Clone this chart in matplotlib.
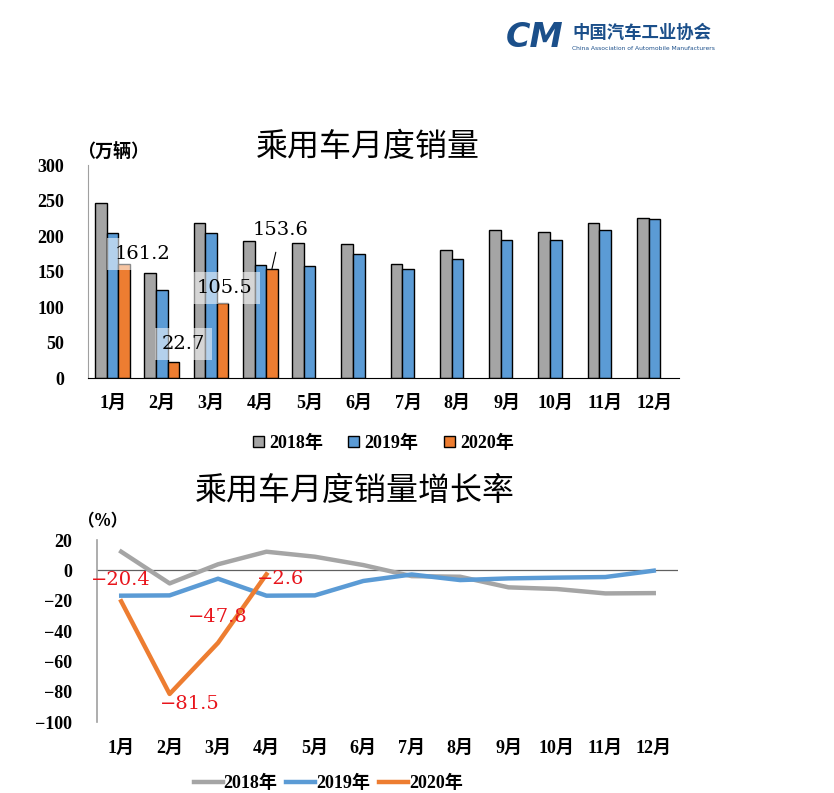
import numpy as np
import matplotlib.pyplot as plt

plt.rcParams['font.family'] = ['Noto Sans CJK SC', 'DejaVu Sans']

months = ['1月', '2月', '3月', '4月', '5月', '6月', '7月', '8月', '9月', '10月', '11月', '12月']

# monthly sales (10k vehicles)
sales_2018 = [247, 148, 219, 193, 190, 189, 160, 181, 208, 206, 219, 226]
sales_2019 = [204, 124, 204, 159, 158, 175, 154, 167, 195, 195, 208, 224]
sales_2020 = [161.2, 22.7, 105.5, 153.6]

# growth rate (%)
growth_2018 = [12.3, -8.6, 4.0, 12.3, 9.0, 3.5, -3.8, -4.2, -11.2, -12.3, -15.2, -15.0]
growth_2019 = [-16.7, -16.5, -5.5, -16.7, -16.5, -7.0, -2.7, -6.4, -5.3, -4.8, -4.4, -0.2]
growth_2020 = [-20.4, -81.5, -47.8, -2.6]

years = ['2018年', '2019年', '2020年']
colors = ['#A5A5A5', '#5B9BD5', '#ED7D31']

num_font = ['Liberation Serif', 'Noto Sans CJK SC']
lab_font = ['DejaVu Serif', 'Noto Sans CJK SC']

fig = plt.figure(figsize=(8.34, 7.93), dpi=100)

# ---------------- bar chart ----------------
ax1 = fig.add_axes([0.1055, 0.5233, 0.7086, 0.2686])
x = np.arange(len(months))
w = 0.235
for i, (vals, c, lab) in enumerate(zip([sales_2018, sales_2019, sales_2020], colors, years)):
    xs = x[:len(vals)] + (i - 1) * w
    ax1.bar(xs, vals, width=w, color=c, edgecolor='black', linewidth=1.0, label=lab)

ax1.set_xlim(-0.5, 11.5)
ax1.set_ylim(0, 300)
ax1.set_yticks(range(0, 301, 50))
ax1.set_xticks(x)
ax1.set_xticklabels(months)
for s in ['top', 'right']:
    ax1.spines[s].set_visible(False)
ax1.spines['left'].set_color('#A0A0A0')
ax1.spines['bottom'].set_color('black')
ax1.tick_params(axis='y', length=0, pad=17)
ax1.tick_params(axis='x', length=0, pad=12)
for t in ax1.get_xticklabels() + ax1.get_yticklabels():
    t.set_fontfamily(num_font)
    t.set_fontweight('bold')
    t.set_fontsize(13)

bbox = dict(boxstyle='square,pad=0.35', fc='white', ec='none', alpha=0.55)
xs20 = x[:4] + w
ax1.annotate('161.2', (xs20[0], sales_2020[0]), xytext=(0.6, 175), ha='center', va='center',
             fontsize=14, family=lab_font, bbox=bbox)
ax1.annotate('22.7', (xs20[1], sales_2020[1]), xytext=(1.43, 48), ha='center', va='center',
             fontsize=14, family=lab_font, bbox=bbox)
ax1.annotate('105.5', (xs20[2], sales_2020[2]), xytext=(2.28, 127), ha='center', va='center',
             fontsize=14, family=lab_font, bbox=bbox)
ax1.annotate('153.6', (xs20[3], sales_2020[3]), xytext=(3.42, 209), ha='center', va='center',
             fontsize=14, family=lab_font,
             arrowprops=dict(arrowstyle='-', color='black', lw=0.8, shrinkA=8, shrinkB=0))

ax1.legend(loc='upper center', bbox_to_anchor=(0.5, -0.19), ncol=3, frameon=False,
           handlelength=0.6, handleheight=0.6, handletextpad=0.3, columnspacing=1.4,
           prop={'family': num_font, 'weight': 'bold', 'size': 13})

fig.text(0.441, 0.815, '乘用车月度销量', ha='center', va='center', fontsize=23)
fig.text(0.092, 0.809, '（万辆）', ha='left', va='center', fontsize=13, fontweight='bold')

# ---------------- line chart ----------------
ax2 = fig.add_axes([0.1163, 0.0895, 0.6966, 0.2295])
ax2.plot(x, growth_2018, color=colors[0], lw=3.2, label=years[0])
ax2.plot(x, growth_2019, color=colors[1], lw=3.2, label=years[1])
ax2.plot(x[:4], growth_2020, color=colors[2], lw=3.2, label=years[2])
ax2.axhline(0, color='#606060', lw=0.9, zorder=0)

ax2.set_xlim(-0.5, 11.5)
ax2.set_ylim(-100, 20)
ax2.set_yticks(range(-100, 21, 20))
ax2.set_xticks(x)
ax2.set_xticklabels(months)
for s in ['top', 'right', 'bottom']:
    ax2.spines[s].set_visible(False)
ax2.spines['left'].set_color('#A0A0A0')
ax2.spines['left'].set_linewidth(1.2)
ax2.tick_params(axis='y', length=0, pad=18)
ax2.tick_params(axis='x', length=0, pad=13)
for t in ax2.get_xticklabels() + ax2.get_yticklabels():
    t.set_fontfamily(num_font)
    t.set_fontweight('bold')
    t.set_fontsize(13)

red = '#E8141B'
label_pos = [(0.0, -6.4), (1.42, -87.8), (2.0, -30.6), (3.3, -6.0)]
for v, (lx, ly) in zip(growth_2020, label_pos):
    ax2.text(lx, ly, f'{v}'.replace('-', '\u2212'), color=red, fontsize=14, family=lab_font,
             ha='center', va='center')

ax2.legend(loc='upper center', bbox_to_anchor=(0.398, -0.2), ncol=3, frameon=False,
           handlelength=1.6, handletextpad=0.05, columnspacing=0.5,
           prop={'family': num_font, 'weight': 'bold', 'size': 13})

fig.text(0.425, 0.381, '乘用车月度销量增长率', ha='center', va='center', fontsize=23)
fig.text(0.094, 0.343, '（%）', ha='left', va='center', fontsize=12, fontweight='bold')

# ---------------- header logo ----------------
fig.text(0.606, 0.953, 'CM', ha='left', va='center', fontsize=24, fontweight='bold',
         fontstyle='italic', color='#1B4F8A', family='DejaVu Sans')
fig.text(0.686, 0.958, '中国汽车工业协会', ha='left', va='center', fontsize=12.5,
         fontweight='bold', color='#1B4F8A')
fig.text(0.686, 0.939, 'China Association of Automobile Manufacturers', ha='left', va='center',
         fontsize=4.3, color='#1B4F8A', family='DejaVu Sans')

fig.savefig('out.png', dpi=100)
